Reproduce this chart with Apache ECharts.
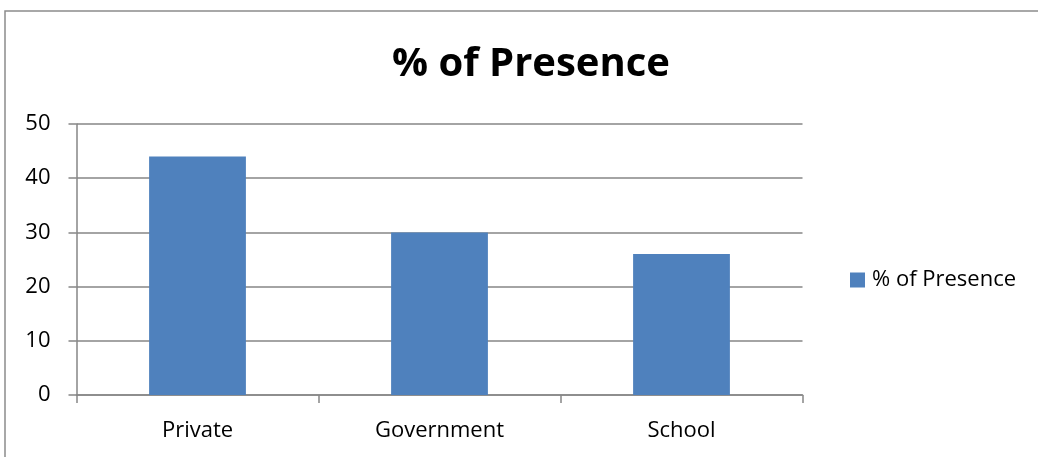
<!DOCTYPE html>
<html>
<head>
<meta charset="utf-8">
<script src="https://cdn.jsdelivr.net/npm/echarts@6/dist/echarts.min.js"></script>
<style>
  html, body { margin: 0; padding: 0; background: #fff; }
  #chart { width: 1038px; height: 457px; }
</style>
</head>
<body>
<div id="chart"></div>
<script>
var categories = ['Private', 'Government', 'School'];
var presence = [44, 30, 26];
var seriesName = '% of Presence';

var chart = echarts.init(document.getElementById('chart'));

var option = {
  animation: false,
  textStyle: { fontFamily: 'Open Sans' },
  graphic: [{
    type: 'rect',
    shape: { x: 5, y: 11, width: 1040, height: 460 },
    style: { fill: 'none', stroke: '#8c8c8c', lineWidth: 1.5 },
    silent: true
  }],
  title: {
    text: '% of Presence',
    left: 526,
    textAlign: 'center',
    top: 40,
    textStyle: { fontSize: 40, fontWeight: 'bold', color: '#000', fontFamily: 'Open Sans' }
  },
  legend: {
    left: 845,
    top: 264,
    itemWidth: 15,
    itemHeight: 15,
    itemGap: 6,
    icon: 'rect',
    textStyle: { fontSize: 22, color: '#000', padding: [0, 0, 0, 2] },
    data: [seriesName]
  },
  grid: {
    left: 76.5,
    top: 124,
    width: 726,
    height: 271
  },
  xAxis: {
    type: 'category',
    data: categories,
    axisLine: { lineStyle: { color: '#868686', width: 1.5 } },
    axisTick: { show: true, length: 8, lineStyle: { color: '#868686', width: 1.5 } },
    axisLabel: { fontSize: 22, color: '#000', margin: 25 }
  },
  yAxis: {
    type: 'value',
    min: 0,
    max: 50,
    interval: 10,
    axisLine: { show: true, lineStyle: { color: '#868686', width: 1.5 } },
    axisTick: { show: true, length: 8, lineStyle: { color: '#868686', width: 1.5 } },
    splitLine: { lineStyle: { color: '#868686', width: 1.5 } },
    axisLabel: { fontSize: 22, color: '#000', margin: 26 }
  },
  series: [{
    name: seriesName,
    type: 'bar',
    data: presence,
    barWidth: '40%',
    itemStyle: { color: '#4F81BD' }
  }]
};

chart.setOption(option);
window.onresize = chart.resize;
</script>
</body>
</html>
